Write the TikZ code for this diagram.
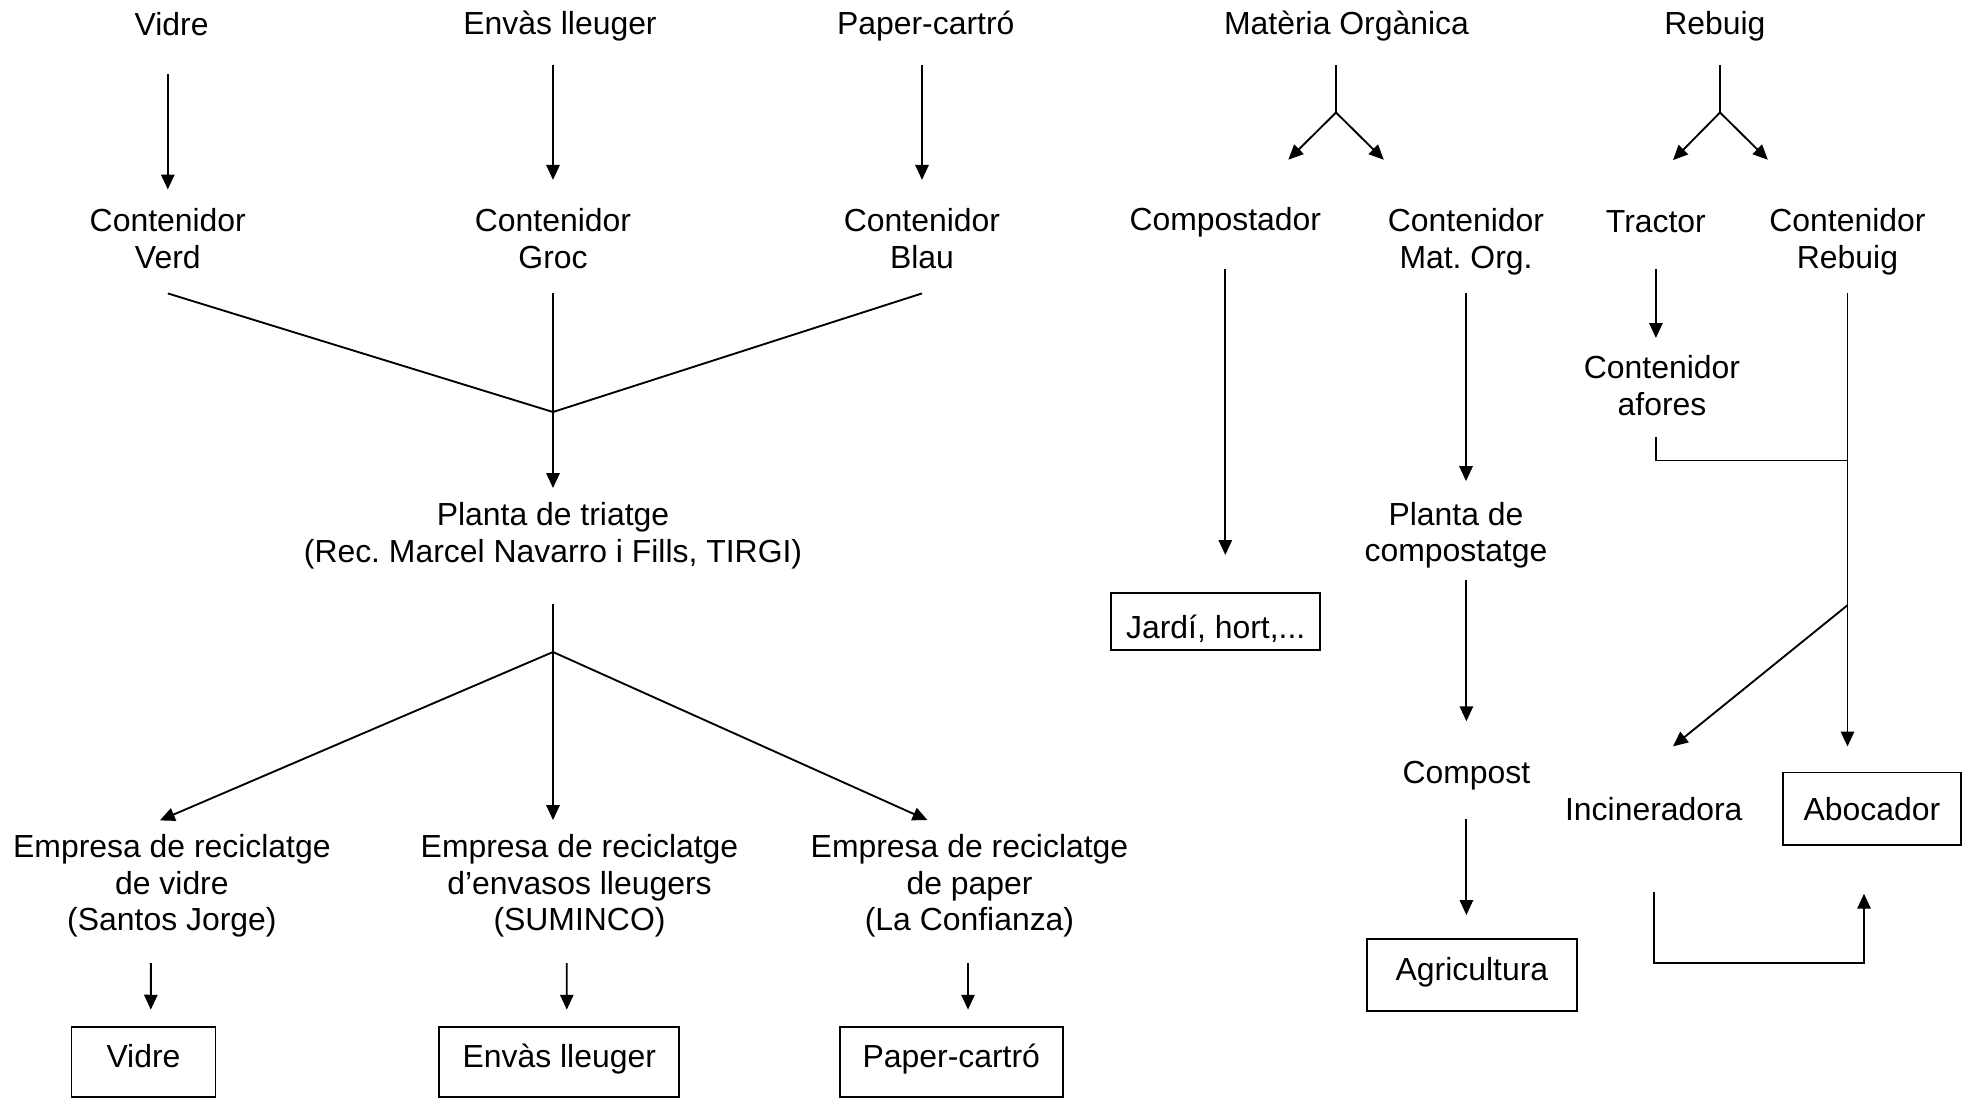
\documentclass[tikz,border=0pt]{standalone}
\usepackage{fontspec}
\setmainfont{Liberation Sans}
\usetikzlibrary{arrows.meta}
\frenchspacing

\begin{document}
\begin{tikzpicture}[x=0.376pt,y=-0.376pt,line width=0.7pt,
	lbl/.style={inner sep=0pt, align=center, font=\fontsize{12}{13.65}\selectfont},
	box/.style={lbl, draw, text height=8.6pt, text depth=0pt},
	arr/.style={-{Triangle[length=5.6pt,width=5pt]}},
	gaps/.style 2 args={shorten <=#1, shorten >=#2}]
	\useasboundingbox (0,0) rectangle (1964,1099);
	
	%top labels
	\node[lbl] (vidre)  at (171.6,23.8)  {Vidre};
	\node[lbl] (envas)  at (560,26.3)    {Envàs lleuger};
	\node[lbl] (paper)  at (925.7,26.3)  {Paper-cartró};
	\node[lbl] (matorg) at (1346.5,26.3) {Matèria Orgànica};
	\node[lbl] (rebuig) at (1714.8,26.3) {Rebuig};
	
	%containers
	\node[lbl] (cverd)       at (167.8,238.6)  {Contenidor\\Verd};
	\node[lbl] (cgroc)       at (553,238.6)    {Contenidor\\Groc};
	\node[lbl] (cblau)       at (922,238.6)    {Contenidor\\Blau};
	\node[lbl] (compostador) at (1225.3,222.6) {Compostador};
	\node[lbl] (cmat)        at (1466,241.6)   {Contenidor\\Mat. Org.};
	\node[lbl] (tractor)     at (1655.9,221.3) {Tractor};
	\node[lbl] (crebuig)     at (1847.5,241.6) {Contenidor\\Rebuig};
	\node[lbl] (cafores)     at (1662,385.5)   {Contenidor\\afores};
	
	%plants
	\node[lbl] (triatge)      at (553,535.8)    {Planta de triatge\\(Rec. Marcel Navarro i Fills, TIRGI)};
	\node[lbl] (pcomp)        at (1456,535)     {Planta de\\compostatge};
	\node[lbl] (compost)      at (1466.4,776)   {Compost};
	\node[lbl] (incineradora) at (1653.8,809)   {Incineradora};
	
	%companies
	\node[lbl] (emp1) at (171.9,886) {Empresa de reciclatge\\de vidre\\(Santos Jorge)};
	\node[lbl] (emp2) at (579.5,886) {Empresa de reciclatge\\d’envasos lleugers\\(SUMINCO)};
	\node[lbl] (emp3) at (969.5,886) {Empresa de reciclatge\\de paper\\(La Confianza)};
	
	%boxes
	\node[box, text depth=4.4pt, minimum width=54.1pt, minimum height=26.5pt] (bvidre) at (143.5,1061.8) {Vidre};
	\node[box, text depth=4.4pt, minimum width=90.2pt, minimum height=26.5pt] (benvas) at (559.3,1061.8) {Envàs lleuger};
	\node[box, text depth=4.4pt, minimum width=83.8pt, minimum height=26.5pt] (bpaper) at (951.3,1061.8) {Paper-cartró};
	\node[box, text height=12.4pt, minimum width=78.7pt, minimum height=21.2pt] (jardi) at (1215.7,621.6) {Jardí, hort,...};
	\node[box, text depth=4.3pt, minimum width=78.7pt, minimum height=27.1pt] (agri) at (1471.9,974.6) {Agricultura};
	\node[box, minimum width=66.7pt, minimum height=27.2pt] (abocador) at (1872,808.6) {Abocador};
	
	%junctions
	\coordinate (tj) at (553,412);
	\coordinate (ts) at (553,652);
	\coordinate (mosplit) at (1336,112.5);
	\coordinate (rbsplit) at (1720,112.5);
	\coordinate (rbjoin) at (crebuig |- 0,460.5);
	\coordinate (rbfork) at (crebuig |- 0,605.2);
	\coordinate (incbot) at (incineradora |- 0,963.2);
	
	%arrows, left part
	\draw[arr, gaps={14.2pt}{6.9pt}] (vidre.south -| cverd) -- (cverd.north);
	\draw[arr, gaps={8.4pt}{10.5pt}] (envas.south -| cgroc) -- (cgroc.north);
	\draw[arr, gaps={8.4pt}{10.5pt}] (paper.south -| cblau) -- (cblau.north);
	\draw ([shift={(0,24)}]cverd.south) -- (tj);
	\draw ([shift={(0,24)}]cgroc.south) -- (tj);
	\draw ([shift={(0,24)}]cblau.south) -- (tj);
	\draw[arr, shorten >=5.2pt] (tj) -- (tj |- triatge.north);
	\draw ([shift={(0,34)}]triatge.south) -- (ts);
	\draw[arr] (ts) -- ([shift={(-12,-13.5)}]emp1.north);
	\draw[arr, shorten >=5.2pt] (ts) -- (ts |- emp2.north);
	\draw[arr] (ts) -- ([shift={(-42,-13.8)}]emp3.north);
	\draw[arr] ([shift={(-21,25)}]emp1.south) -- ([shift={(7.3,-16)}]bvidre.north);
	\draw[arr] ([shift={(-12.7,25)}]emp2.south) -- ([shift={(7.5,-16)}]benvas.north);
	\draw[arr] ([shift={(-1.5,25)}]emp3.south) -- ([shift={(16.7,-16)}]bpaper.north);
	
	%arrows, right part
	\draw[shorten <=8.6pt] (matorg.south -| mosplit) -- (mosplit);
	\draw[arr] (mosplit) -- ([shift={(63.1,-47.1)}]compostador.north);
	\draw[arr] (mosplit) -- ([shift={(-82.2,-47.9)}]cmat.north);
	\draw[shorten <=8.6pt] (rebuig.south -| rbsplit) -- (rbsplit);
	\draw[arr] (rbsplit) -- ([shift={(17.1,-49.1)}]tractor.north);
	\draw[arr] (rbsplit) -- ([shift={(-79.7,-47.9)}]crebuig.north);
	\draw[arr, gaps={11.45pt}{14.1pt}] (compostador.south) -- (compostador.south |- jardi.north);
	\draw[arr, gaps={6.6pt}{7.5pt}] (cmat.south) -- (cmat.south |- pcomp.north);
	\draw[arr, gaps={4pt}{14.8pt}] (pcomp.south -| compost) -- (compost.north);
	\draw[arr, gaps={10.2pt}{8.5pt}] (compost.south) -- (compost.south |- agri.north);
	\draw[arr, gaps={13.25pt}{6.3pt}] (tractor.south) -- (tractor.south |- cafores.north);
	\draw[arr, gaps={6.6pt}{9.4pt}] (crebuig.south) -- (crebuig.south |- abocador.north);
	\draw[shorten <=7.9pt] (cafores.south -| tractor) |- (rbjoin);
	\draw[arr] (rbfork) -- ([shift={(19.2,-50)}]incineradora.north);
	\draw[arr] ([shift={(0,70.5)}]incineradora.south) -- (incbot) -| ([shift={(-8,48)}]abocador.south);
\end{tikzpicture}
\end{document}
